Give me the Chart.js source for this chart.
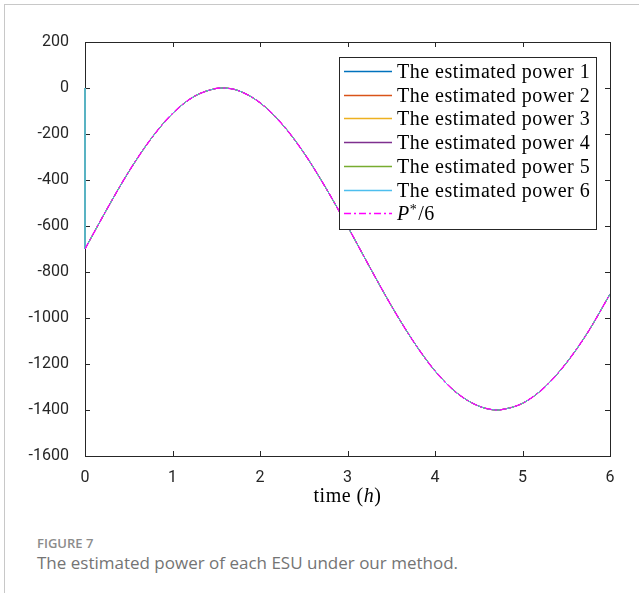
<!DOCTYPE html>
<html>
<head>
<meta charset="utf-8">
<script src="https://cdn.jsdelivr.net/npm/chart.js@4/dist/chart.umd.min.js"></script>
<style>
  html, body { margin: 0; padding: 0; background: #fff; }
  body { width: 639px; height: 598px; position: relative; overflow: hidden; }
  #frame { position: absolute; left: 4px; top: 4px; width: 700px; height: 588px;
           border-left: 1px solid #c8c8c8; border-top: 1px solid #c8c8c8; }
  #wrap { position: absolute; left: 0; top: 0; width: 639px; height: 520px; }
  #fig { position: absolute; left: 37px; top: 534px; font-family: "Open Sans", sans-serif;
         font-size: 13px; font-weight: 600; color: #8c8c8c; }
  #caption { position: absolute; left: 37px; top: 551px; font-family: "Open Sans", sans-serif;
             font-size: 17px; color: #747474; }
</style>
</head>
<body>
<div id="frame"></div>
<div id="wrap"><canvas id="powerChart" width="639" height="520"></canvas></div>
<div id="fig">FIGURE 7</div>
<div id="caption">The estimated power of each ESU under our method.</div>
<script>
// time (h) and power values
const timeH = [0, 0.25, 0.5, 0.75, 1.0, 1.25, 1.5, 1.57, 1.75, 2.0, 2.25, 2.5, 2.75, 3.0, 3.25, 3.5,
  3.75, 4.0, 4.25, 4.5, 4.71, 4.75, 5.0, 5.25, 5.5, 5.75, 6.0];
const refPower = [-700, -527, -364, -223, -111, -36, -2, 0, -11, -64, -156, -281, -433, -601, -776, -946,
  -1100, -1230, -1326, -1383, -1400, -1399, -1371, -1302, -1196, -1060, -896];
// the estimates start at 0 and jump onto the reference at t = 0
const startPower = 0;
const estLabels = ["The estimated power 1", "The estimated power 2", "The estimated power 3",
  "The estimated power 4", "The estimated power 5", "The estimated power 6"];
const estColors = ["#0072BD", "#D95319", "#EDB120", "#7E2F8E", "#77AC30", "#4DBEEE"];
const refColor = "#FF00FF";
const refDash = [7, 3, 2, 3];
const xTicks = [0, 1, 2, 3, 4, 5, 6];
const yTicks = [200, 0, -200, -400, -600, -800, -1000, -1200, -1400, -1600];

const axisColor = "#262626";
const tickFont = { family: "Roboto, 'Liberation Sans', sans-serif", size: 16 };

const curve = timeH.map((t, i) => ({ x: t, y: refPower[i] }));
const jump = [{ x: 0, y: startPower }, { x: 0, y: refPower[0] }];

// higher order is drawn first, so P*/6 ends up on top
const datasets = [];
estLabels.forEach((lbl, i) => {
  datasets.push({
    label: lbl,
    data: curve,
    borderColor: estColors[i],
    borderWidth: 1,
    pointRadius: 0,
    cubicInterpolationMode: "monotone",
    order: 20 - 2 * i
  });
  datasets.push({
    label: lbl,
    data: jump,
    borderColor: estColors[i],
    borderWidth: 1.5,
    pointRadius: 0,
    tension: 0,
    clip: 3,
    order: 20 - 2 * i
  });
});
datasets.push({
  label: "P*/6",
  data: curve,
  borderColor: refColor,
  borderWidth: 1.3,
  borderDash: refDash,
  pointRadius: 0,
  cubicInterpolationMode: "monotone",
  order: 0
});

// box and inward ticks go under the lines
const matlabBox = {
  id: "matlabBox",
  beforeDatasetsDraw(chart) {
    const { ctx, chartArea: a, scales: { x, y } } = chart;
    ctx.save();
    ctx.strokeStyle = axisColor;
    ctx.lineWidth = 1;
    ctx.strokeRect(a.left + 0.5, a.top + 0.5, a.right - a.left, a.bottom - a.top);
    const tl = 5;
    ctx.beginPath();
    xTicks.forEach(v => {
      const px = Math.round(x.getPixelForValue(v)) + 0.5;
      ctx.moveTo(px, a.bottom); ctx.lineTo(px, a.bottom - tl);
      ctx.moveTo(px, a.top); ctx.lineTo(px, a.top + tl);
    });
    yTicks.forEach(v => {
      const py = Math.round(y.getPixelForValue(v)) + 0.5;
      ctx.moveTo(a.left, py); ctx.lineTo(a.left + tl, py);
      ctx.moveTo(a.right, py); ctx.lineTo(a.right - tl, py);
    });
    ctx.stroke();
    ctx.restore();
  }
};

// x title and legend on top
const matlabText = {
  id: "matlabText",
  afterDraw(chart) {
    const { ctx, chartArea: a } = chart;
    ctx.save();
    const serif = "20px 'Liberation Serif', 'DejaVu Serif', serif";
    const serifIt = "italic 20px 'Liberation Serif', 'DejaVu Serif', serif";
    ctx.letterSpacing = "0.5px";

    // x axis title: time (h)
    ctx.fillStyle = "#000";
    ctx.textBaseline = "alphabetic";
    const parts = [["time (", serif], ["h", serifIt], [")", serif]];
    let w = 0;
    parts.forEach(p => { ctx.font = p[1]; w += ctx.measureText(p[0]).width; });
    let tx = (a.left + a.right) / 2 - w / 2;
    parts.forEach(p => { ctx.font = p[1]; ctx.fillText(p[0], tx, 502); tx += ctx.measureText(p[0]).width; });

    // legend
    const lx = 339, ly = 57, lw = 257, lh = 172;
    ctx.fillStyle = "#fff";
    ctx.fillRect(lx, ly, lw, lh);
    ctx.strokeStyle = axisColor;
    ctx.lineWidth = 1;
    ctx.strokeRect(lx + 0.5, ly + 0.5, lw, lh);
    const rowH = 23.7;
    const rows = estLabels.map((lbl, i) => ({ label: lbl, color: estColors[i], dash: [] }));
    rows.push({ label: null, color: refColor, dash: refDash });
    rows.forEach((r, i) => {
      const cy = Math.round(ly + 14 + i * rowH);
      ctx.beginPath();
      ctx.strokeStyle = r.color;
      ctx.lineWidth = 1.3;
      ctx.setLineDash(r.dash);
      ctx.moveTo(lx + 5, cy + 0.5);
      ctx.lineTo(lx + 53, cy + 0.5);
      ctx.stroke();
      ctx.setLineDash([]);
      ctx.fillStyle = "#000";
      const textX = lx + 58, base = cy + 7;
      if (r.label) {
        ctx.font = serif;
        ctx.fillText(r.label, textX, base);
      } else {
        // P*/6
        ctx.font = serifIt;
        ctx.fillText("P", textX, base);
        let px = textX + ctx.measureText("P").width;
        ctx.font = "14px 'Liberation Serif', 'DejaVu Serif', serif";
        ctx.fillText("*", px, base - 6);
        px += ctx.measureText("*").width + 1;
        ctx.font = serif;
        ctx.fillText("/6", px, base);
      }
    });
    ctx.restore();
  }
};

new Chart(document.getElementById("powerChart"), {
  type: "line",
  data: { datasets },
  options: {
    responsive: false,
    animation: false,
    layout: { padding: { top: 42, right: 29, left: 0, bottom: 0 } },
    plugins: { legend: { display: false }, tooltip: { enabled: false } },
    scales: {
      x: {
        type: "linear",
        min: 0, max: 6,
        afterBuildTicks: s => { s.ticks = xTicks.map(v => ({ value: v })); },
        afterFit: s => { s.height = 64; },
        grid: { display: false },
        border: { display: false },
        ticks: { color: axisColor, padding: 4, font: tickFont, callback: v => String(v) }
      },
      y: {
        type: "linear",
        min: -1600, max: 200,
        afterBuildTicks: s => { s.ticks = yTicks.map(v => ({ value: v })); },
        afterFit: s => { s.width = 85; },
        grid: { display: false },
        border: { display: false },
        ticks: { color: axisColor, padding: 8, font: tickFont, callback: v => String(v) }
      }
    }
  },
  plugins: [matlabBox, matlabText]
});
</script>
</body>
</html>
